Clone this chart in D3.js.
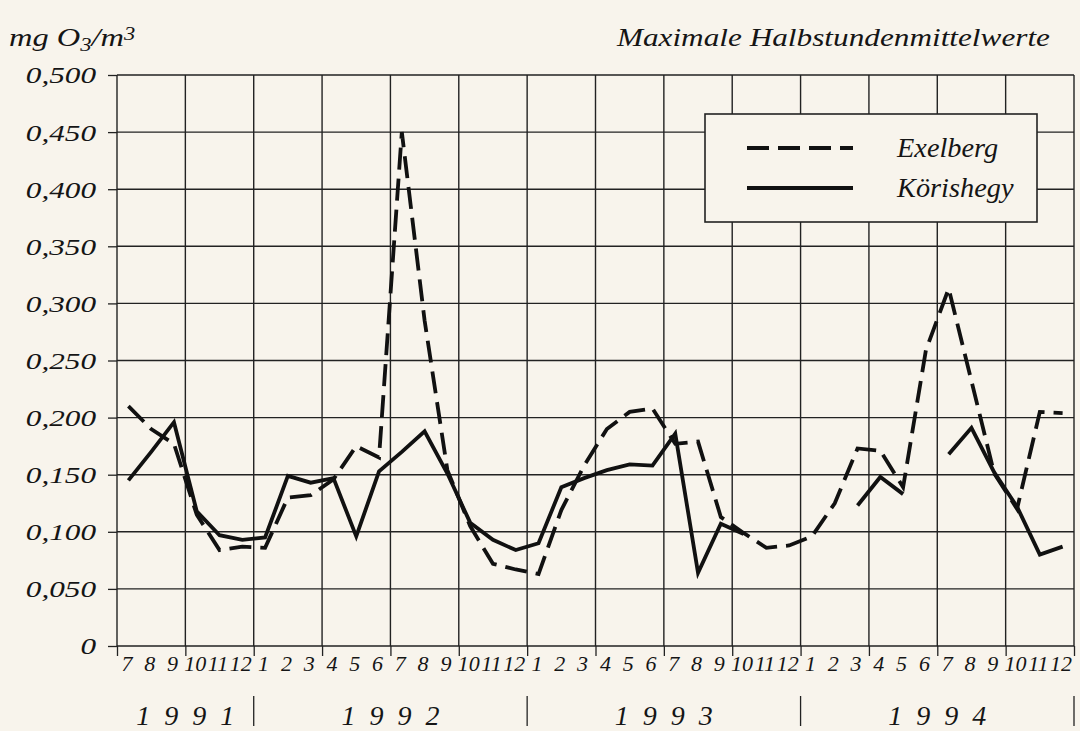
<!DOCTYPE html>
<html>
<head>
<meta charset="utf-8">
<script src="https://cdn.jsdelivr.net/npm/d3@7"></script>
<style>
  body { margin: 0; background: #f8f4ec; }
  svg { display: block; }
  text { font-family: "Liberation Serif", "Times New Roman", Tinos, Times, serif; font-style: italic; fill: #151515; }
  .axis path { display: none; }
  .axis line { stroke: #222; stroke-width: 1.3; }
</style>
</head>
<body>
<svg id="chart"></svg>
<script>
// months from 7/1991 to 12/1994
const monthLabels = [7, 8, 9, 10, 11, 12,
  1, 2, 3, 4, 5, 6, 7, 8, 9, 10, 11, 12,
  1, 2, 3, 4, 5, 6, 7, 8, 9, 10, 11, 12,
  1, 2, 3, 4, 5, 6, 7, 8, 9, 10, 11, 12];
const years = [
  {label: '1991', from: 0, to: 6},
  {label: '1992', from: 6, to: 18},
  {label: '1993', from: 18, to: 30},
  {label: '1994', from: 30, to: 42}
];
const yTicks = [0, 0.05, 0.1, 0.15, 0.2, 0.25, 0.3, 0.35, 0.4, 0.45, 0.5];

// mg O3/m3, null = no value
const exelberg = [0.210, 0.190, 0.177, 0.115, 0.084, 0.087,
  0.086, 0.130, 0.132, 0.146, 0.175, 0.165, 0.450, 0.285, 0.154, 0.105, 0.072, 0.067,
  0.063, 0.119, 0.158, 0.190, 0.205, 0.208, 0.177, 0.179, 0.113, 0.099, 0.086, 0.088,
  0.096, 0.125, 0.173, 0.171, 0.139, 0.259, 0.313, 0.232, 0.151, 0.120, 0.205, 0.204];
const koerishegy = [0.145, 0.170, 0.196, 0.118, 0.097, 0.093,
  0.095, 0.149, 0.143, 0.147, 0.096, 0.153, 0.170, 0.188, 0.151, 0.108, 0.093, 0.084,
  0.090, 0.139, 0.147, 0.154, 0.159, 0.158, 0.186, 0.064, 0.107, 0.098, null, null,
  null, null, 0.123, 0.148, 0.133, null, 0.168, 0.191, 0.152, 0.122, 0.080, 0.087];

const series = [
  {name: 'Exelberg', values: exelberg, dash: '22,9'},
  {name: 'Körishegy', values: koerishegy, dash: null}
];

var w = 1080, h = 731;
var margin = {top: 75, right: 6, bottom: 85, left: 117};
var plotW = w - margin.left - margin.right,
    plotH = h - margin.top - margin.bottom;

var svg = d3.select('#chart').attr('width', w).attr('height', h);
var g = svg.append('g').attr('transform', translation(margin.left, margin.top));

var x = d3.scaleLinear().domain([0, monthLabels.length]).range([0, plotW]);
var y = d3.scaleLinear().domain([0, 0.5]).range([plotH, 0]);

var locale = d3.formatLocale({decimal: ',', thousands: '.', grouping: [3], currency: ['', '']});
var fmt = locale.format('.3f');

// stretch text horizontally, the scan is wider than the font
function stretch(sel, k) {
  sel.each(function() {
    var tw = this.getComputedTextLength();
    d3.select(this).attr('textLength', tw * k).attr('lengthAdjust', 'spacingAndGlyphs');
  });
}

// GRID
g.append('g').selectAll('line')
  .data(yTicks)
  .enter().append('line')
    .attr('x1', 0).attr('x2', plotW)
    .attr('y1', d => y(d)).attr('y2', d => y(d))
    .attr('stroke', '#222').attr('stroke-width', 1.4);

g.append('g').selectAll('line')
  .data(d3.range(0, monthLabels.length + 1, 3))
  .enter().append('line')
    .attr('x1', d => x(d)).attr('x2', d => x(d))
    .attr('y1', 0).attr('y2', plotH)
    .attr('stroke', '#222').attr('stroke-width', 1.4);

// AXES
var yAxis = d3.axisLeft(y)
  .tickValues(yTicks)
  .tickSize(9)
  .tickPadding(12)
  .tickFormat(d => d === 0 ? '0' : fmt(d));

g.append('g').attr('class', 'axis y').call(yAxis)
  .selectAll('text')
    .attr('dy', '0.33em')
    .style('font-size', '24px')
    .call(stretch, 1.3);

g.append('g').attr('class', 'axis x')
  .attr('transform', translation(0, plotH))
  .call(d3.axisBottom(x).tickValues(d3.range(0, monthLabels.length + 1, 3)).tickSize(10).tickFormat(''));

g.append('g').attr('class', 'axis months')
  .attr('transform', translation(0, plotH))
  .call(d3.axisBottom(x)
    .tickValues(d3.range(monthLabels.length).map(i => i + 0.5))
    .tickSize(0).tickPadding(9)
    .tickFormat((d, i) => monthLabels[i]))
  .selectAll('text')
    .attr('dx', '-2')
    .style('font-size', '22px');

// year labels and separators
g.append('g').selectAll('line')
  .data(years)
  .enter().append('line')
    .attr('x1', d => x(d.to)).attr('x2', d => x(d.to))
    .attr('y1', plotH + 50).attr('y2', plotH + 80)
    .attr('stroke', '#222').attr('stroke-width', 1.3);

g.append('g').selectAll('text')
  .data(years)
  .enter().append('text')
    .attr('x', d => x((d.from + d.to) / 2))
    .attr('y', plotH + 79)
    .attr('text-anchor', 'middle')
    .attr('textLength', 98)
    .attr('lengthAdjust', 'spacing')
    .style('font-size', '28px')
    .text(d => d.label);

// LINES
var line = d3.line()
  .defined(d => d != null)
  .x((d, i) => x(i + 0.5))
  .y(d => y(d));

g.append('g').selectAll('path')
  .data(series)
  .enter().append('path')
    .attr('d', d => line(d.values))
    .attr('fill', 'none')
    .attr('stroke', '#111')
    .attr('stroke-width', 3.8)
    .attr('stroke-dasharray', d => d.dash);

// LEGEND
var legend = svg.append('g').attr('transform', translation(705, 114));
legend.append('rect')
  .attr('width', 332).attr('height', 108)
  .attr('fill', '#f8f4ec').attr('stroke', '#222').attr('stroke-width', 1.6);

var item = legend.selectAll('.item')
  .data(series)
  .enter().append('g')
    .attr('class', 'item')
    .attr('transform', (d, i) => translation(0, 34 + i * 40));
item.append('line')
  .attr('x1', 42).attr('x2', 148)
  .attr('stroke', '#111').attr('stroke-width', 3.8)
  .attr('stroke-dasharray', d => d.dash);
item.append('text')
  .attr('x', 192).attr('y', 9)
  .style('font-size', '27px')
  .text(d => d.name)
  .call(stretch, 1.05);

// TITLES
svg.append('text')
  .attr('x', 1050).attr('y', 46)
  .attr('text-anchor', 'end')
  .style('font-size', '25px')
  .text('Maximale Halbstundenmittelwerte')
  .call(stretch, 1.25);

var unit = svg.append('text')
  .attr('x', 9).attr('y', 46)
  .style('font-size', '26px');
unit.append('tspan').text('mg O');
unit.append('tspan').attr('baseline-shift', '-25%').style('font-size', '18px').text('3');
unit.append('tspan').text('/m');
unit.append('tspan').attr('baseline-shift', '35%').style('font-size', '18px').text('3');
unit.call(stretch, 1.25);

function translation(tx, ty) {
  return 'translate(' + tx + ',' + ty + ')';
}
</script>
</body>
</html>
